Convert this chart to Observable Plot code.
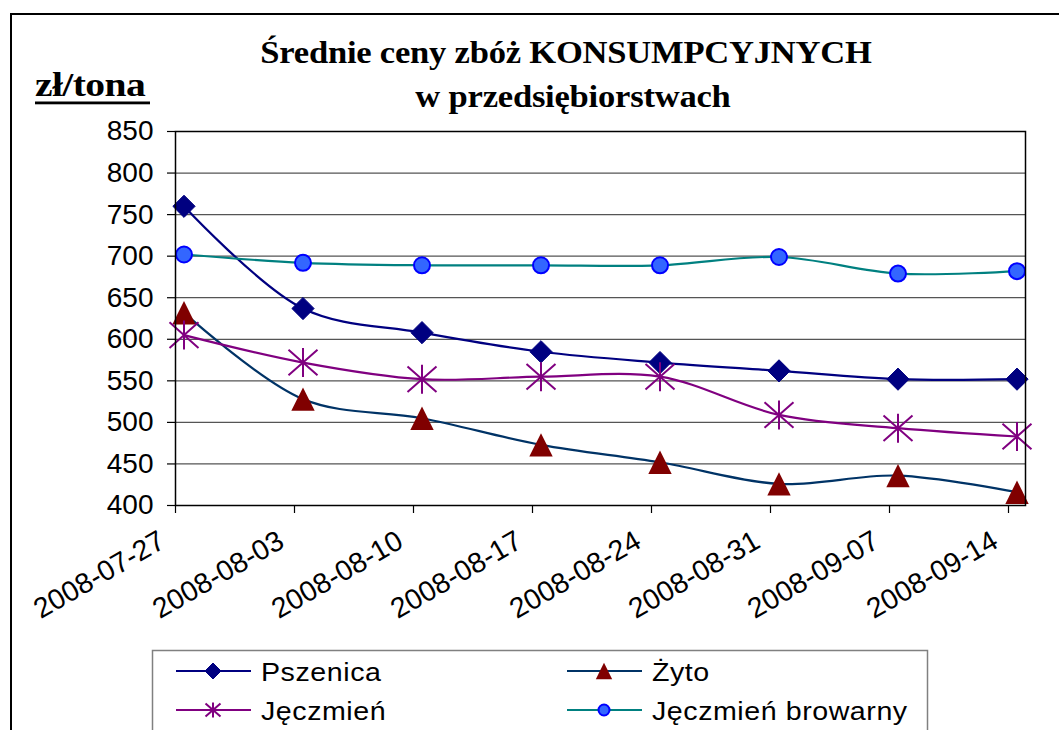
<!DOCTYPE html>
<html><head><meta charset="utf-8">
<script src="https://cdn.jsdelivr.net/npm/d3@7"></script>
<script src="https://cdn.jsdelivr.net/npm/@observablehq/plot@0.6"></script>
<style>
body{margin:0;background:#fff;}
#wrap{position:relative;width:1059px;height:730px;overflow:hidden;background:#fff;}
#frame{position:absolute;left:10px;top:13px;width:1100px;height:800px;border-left:2px solid #000;border-top:2px solid #000;}
#chart{position:absolute;left:0;top:0;}
#overlay{position:absolute;left:0;top:0;pointer-events:none;}
</style></head>
<body><div id="wrap"><div id="frame"></div><div id="chart"></div><svg id="overlay" width="1059" height="730"></svg></div>
<script>
// ---- data ----
const dates = ["2008-07-27","2008-08-03","2008-08-10","2008-08-17","2008-08-24","2008-08-31","2008-09-07","2008-09-14"];
const seriesNames = ["Pszenica","Żyto","Jęczmień","Jęczmień browarny"];
const pszenica = [760, 637, 608, 585, 572, 562, 552, 552];
const zyto     = [632, 528, 505, 473, 452, 426, 436, 416];
const jeczmien = [605, 572, 552, 555, 555, 509, 493, 483];
const browarny = [702, 692, 689, 689, 689, 699, 679, 682];
const yTicks = [400, 450, 500, 550, 600, 650, 700, 750, 800, 850];
const titleLines = ["Średnie ceny zbóż KONSUMPCYJNYCH", "w przedsiębiorstwach"];
const unitLabel = "zł/tona";

// ---- styles ----
const values = [pszenica, zyto, jeczmien, browarny];
const lineColors = ["#000080", "#003366", "#800080", "#008080"];

const triangleSym = {draw(ctx, size){const r=Math.sqrt(size/Math.PI); const w=r*1.3; ctx.moveTo(0,-w); ctx.lineTo(w,w); ctx.lineTo(-w,w); ctx.closePath();}};
const starSym = {draw(ctx, size){const r=Math.sqrt(size/Math.PI); ctx.moveTo(0,-r); ctx.lineTo(0,r); ctx.moveTo(-r,-r*0.88); ctx.lineTo(r,r*0.88); ctx.moveTo(r,-r*0.88); ctx.lineTo(-r,r*0.88);}};

const markerStyle = [
  {symbol: "diamond2", r: 10, fill: "#000080", stroke: "#000080", strokeWidth: 1},
  {symbol: triangleSym, r: 9, fill: "#800000", stroke: "none"},
  {symbol: starSym, r: 14.5, fill: "none", stroke: "#800080", strokeWidth: 2},
  {symbol: "circle", r: 8, fill: "#3366FF", stroke: "#0000FF", strokeWidth: 2}
];
const legendMarker = [
  {symbol: d3.symbolDiamond2, r: 7.2, fill: "#000080", stroke: "#000080", sw: 1},
  {symbol: triangleSym, r: 6.3, fill: "#800000", stroke: "none", sw: 0},
  {symbol: starSym, r: 7.5, fill: "none", stroke: "#800080", sw: 2},
  {symbol: d3.symbolCircle, r: 5.5, fill: "#3366FF", stroke: "#0000FF", sw: 2}
];

const rows = seriesNames.flatMap((s, i) => dates.map((d, j) => ({
  series: s, date: new Date(d + "T12:00:00Z"), value: values[i][j]
})));
const tickDates = dates.map(d => new Date(d + "T00:00:00Z"));
const fmt = d3.utcFormat("%Y-%m-%d");

const marks = [
  Plot.gridY(yTicks, {stroke: "#555", strokeOpacity: 1, strokeWidth: 1.2}),
  Plot.axisY(yTicks, {tickSize: 8, tickPadding: 14, fontSize: 28, stroke: "#000", strokeWidth: 1.2, label: null}),
  Plot.axisX(tickDates, {tickSize: 8, label: null, stroke: "#000", strokeWidth: 1.2, tickFormat: () => ""}),
  Plot.axisX(tickDates, {tickSize: 0, tickPadding: 33, dx: -13, tickRotate: -30, fontSize: 28.5, tickFormat: fmt, label: null}),
];
seriesNames.forEach((s, i) => {
  const data = rows.filter(r => r.series === s);
  marks.push(Plot.line(data, {x: "date", y: "value", stroke: lineColors[i], strokeWidth: 2.2, curve: "catmull-rom"}));
});
seriesNames.forEach((s, i) => {
  const data = rows.filter(r => r.series === s);
  marks.push(Plot.dot(data, {x: "date", y: "value", ...markerStyle[i]}));
});
marks.push(Plot.frame({stroke: "#000", strokeWidth: 1.5}));

const chart = Plot.plot({
  width: 1059, height: 640,
  marginLeft: 175, marginRight: 34, marginTop: 131, marginBottom: 135,
  style: {fontFamily: "Liberation Sans, Arial, sans-serif", background: "transparent", overflow: "visible", color: "#000"},
  x: {type: "utc", domain: [new Date("2008-07-27T00:00:00Z"), new Date("2008-09-15T00:00:00Z")]},
  y: {domain: [400, 850]},
  marks
});
document.getElementById("chart").appendChild(chart);

// ---- titles & legend ----
const ov = d3.select("#overlay");
ov.append("text").attr("transform", "translate(566,63) scale(1.08,1)")
  .attr("text-anchor", "middle").attr("font-family", "Liberation Serif, Times New Roman, serif")
  .attr("font-weight", "bold").attr("font-size", 32).attr("letter-spacing", -0.2).text(titleLines[0]);
ov.append("text").attr("transform", "translate(573,107) scale(1.08,1)")
  .attr("text-anchor", "middle").attr("font-family", "Liberation Serif, Times New Roman, serif")
  .attr("font-weight", "bold").attr("font-size", 32).attr("letter-spacing", -0.2).text(titleLines[1]);
ov.append("text").attr("transform", "translate(35,96) scale(1.2,1)")
  .attr("font-family", "Liberation Serif, Times New Roman, serif")
  .attr("font-weight", "bold").attr("font-size", 33).attr("letter-spacing", -0.5).text(unitLabel);
ov.append("rect").attr("x", 35).attr("y", 101.5).attr("width", 115).attr("height", 2.8).attr("fill", "#000");

// legend box
ov.append("rect").attr("x", 152.5).attr("y", 650.5).attr("width", 775).attr("height", 120)
  .attr("fill", "#fff").attr("stroke", "#808080").attr("stroke-width", 1.5);
const legPos = [[176, 671], [567, 671], [176, 710], [567, 710]];
seriesNames.forEach((s, i) => {
  const [x0, cy] = legPos[i];
  const g = ov.append("g");
  g.append("line").attr("x1", x0).attr("x2", x0 + 75).attr("y1", cy).attr("y2", cy)
    .attr("stroke", lineColors[i]).attr("stroke-width", 2.2);
  const m = legendMarker[i];
  g.append("path").attr("transform", `translate(${x0 + 37},${cy})`)
    .attr("d", d3.symbol(m.symbol, m.r * m.r * Math.PI)())
    .attr("fill", m.fill).attr("stroke", m.stroke).attr("stroke-width", m.sw);
  g.append("text").attr("transform", `translate(${x0 + 85},${cy + 9.5}) scale(1.1,1)`)
    .attr("font-family", "Liberation Sans, Arial, sans-serif").attr("font-size", 26)
    .attr("letter-spacing", 0.5).text(s);
});
</script>
</body></html>
